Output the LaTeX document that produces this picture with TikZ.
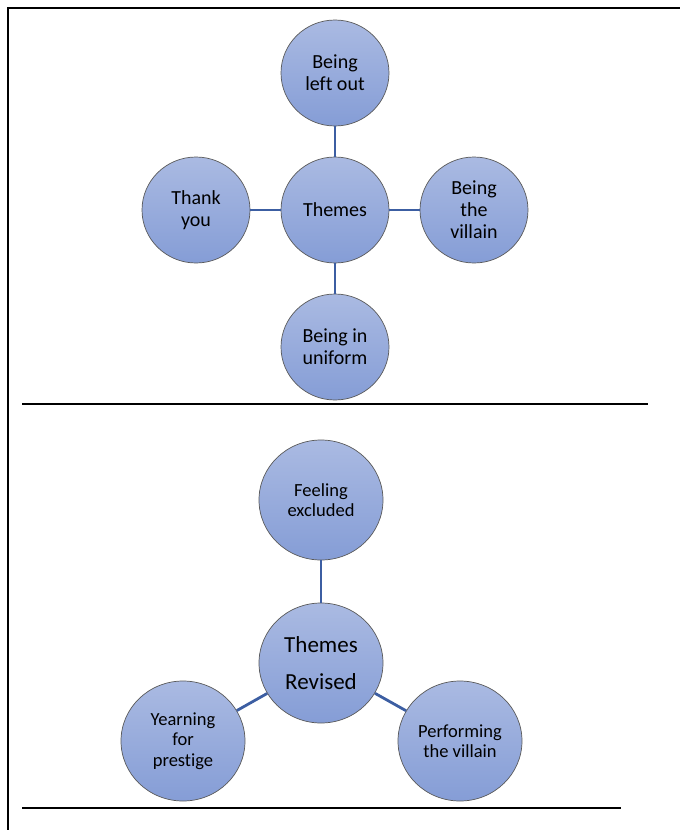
\documentclass[tikz,border=0pt]{standalone}
\usepackage{fontspec}
\setmainfont{Carlito}[Ligatures=NoCommon]
\usetikzlibrary{shapes.geometric}
\definecolor{bubbletop}{HTML}{AABAE2}
\definecolor{bubblebot}{HTML}{859DD6}
\definecolor{linkblue}{HTML}{3C5EA2}
\begin{document}
\begin{tikzpicture}[x=1pt,y=-1pt,
        bubble/.style={ellipse,draw=black!65,line width=0.7pt,top color=bubbletop,bottom color=bubblebot,inner sep=0pt,align=center},
        bigbubble/.style={bubble,minimum width=108pt,minimum height=106pt,font=\fontsize{20}{22}\selectfont},
        smallbubble/.style={bubble,minimum width=124pt,minimum height=120pt,font=\fontsize{18.5}{20.5}\selectfont},
        link/.style={linkblue,line width=2.8pt}]
        \useasboundingbox (0,0) rectangle (680,830);
        \draw[line width=2.3pt] (8,830) -- (8,8) -- (680,8);
        \begin{scope}
            \node[bigbubble] (themes) at (335,210) {Themes};
            \node[bigbubble] (leftout) at (335,73) {Being\\left out};
            \node[bigbubble] (thanks) at (196,210) {Thank\\you};
            \node[bigbubble] (villain) at (474,210) {Being\\the\\villain};
            \node[bigbubble] (uniform) at (335,347) {Being in\\uniform};
            \draw[link] (themes) -- (leftout);
            \draw[link] (themes) -- (thanks);
            \draw[link] (themes) -- (villain);
            \draw[link] (themes) -- (uniform);
        \end{scope}
        \draw[line width=2pt] (22,404) -- (648,404);
        \begin{scope}
            \node[smallbubble,font=\fontsize{23}{37}\selectfont] (revised) at (321,663) {Themes\\Revised};
            \node[smallbubble] (excluded) at (321,500) {Feeling\\excluded};
            \node[smallbubble] (prestige) at (183,741) {Yearning\\for\\prestige};
            \node[smallbubble] (performing) at (460,741) {Performing\\the villain};
            \draw[link] (revised) -- (excluded);
            \draw[link] (revised) -- (prestige);
            \draw[link] (revised) -- (performing);
        \end{scope}
        \draw[line width=2pt] (22,808) -- (621,808);
    \end{tikzpicture}
\end{document}
